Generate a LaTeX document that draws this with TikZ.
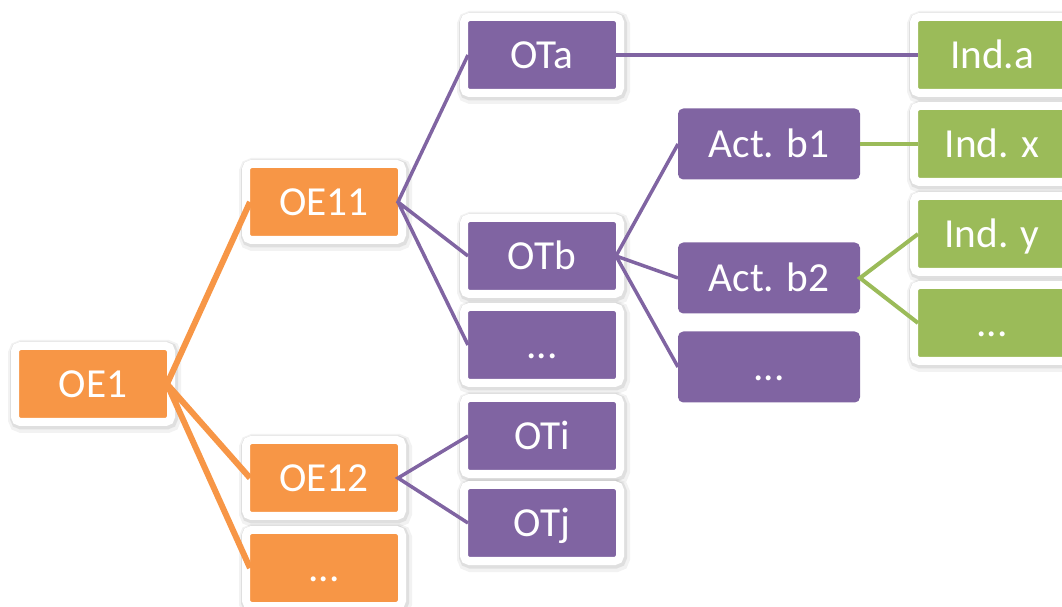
\documentclass[tikz,border=0pt]{standalone}
\usepackage{fontspec}
\setmainfont{Carlito}
\definecolor{oeorange}{RGB}{247,150,70}
\definecolor{otpurple}{RGB}{128,100,162}
\definecolor{indgreen}{RGB}{155,187,89}

\begin{document}
\begin{tikzpicture}[x=1cm,y=1cm,box/.style={draw=white,line width=.16cm,rounded corners=3pt,minimum width=3.12cm,minimum height=1.52cm,text=white,font=\fontsize{23.5}{26}\selectfont,inner sep=0pt,outer sep=-.08cm,text height=.53cm,text depth=0pt,preaction={draw=black,opacity=.05,line width=.34cm,transform canvas={xshift=.03cm,yshift=-.05cm}},preaction={draw=black,opacity=.08,line width=.24cm,transform canvas={xshift=.02cm,yshift=-.03cm}}},actbox/.style={fill=otpurple,rounded corners=3pt,minimum width=3.64cm,minimum height=1.42cm,text=white,font=\fontsize{23.5}{26}\selectfont,inner sep=0pt,outer sep=0pt,text height=.53cm,text depth=0pt},oe/.style={box,fill=oeorange},ot/.style={box,fill=otpurple},ind/.style={box,fill=indgreen},oeline/.style={draw=oeorange,line width=.12cm},otline/.style={draw=otpurple,line width=.07cm},indline/.style={draw=indgreen,line width=.08cm}]

\useasboundingbox (0,0) rectangle (21.24,12.12);
\node[oe] (oe1) at(1.86,4.44) {OE1};
\node[oe] (oe11) at(6.48,8.08) {OE11};
\node[oe] (oe12) at(6.48,2.56) {OE12};
\node[oe] (oedots) at(6.48,.76) {...};
\node[ot] (ota) at(10.84,11.02) {OTa};
\node[ot] (otb) at(10.84,7.00) {OTb};
\node[ot] (otdots) at(10.84,5.22) {...};
\node[ot] (oti) at(10.84,3.40) {OTi};
\node[ot] (otj) at(10.84,1.66) {OTj};
\node[actbox] (actb1) at(15.38,9.24) {Act. b1};
\node[actbox] (actb2) at(15.38,6.56) {Act. b2};
\node[actbox] (actdots) at(15.38,4.78) {...};
\node[ind] (inda) at(19.84,11.02) {Ind.a};
\node[ind] (indx) at(19.84,9.24) {Ind. x};
\node[ind] (indy) at(19.84,7.44) {Ind. y};
\node[ind] (inddots) at(19.84,5.66) {...};

\draw[oeline] (oe11.west) -- (oe1.east) -- (oe12.west) (oe1.east) -- (oedots.west);
\draw[otline] (ota.west) -- (oe11.east) -- (otb.west) (oe11.east) -- (otdots.west);
\draw[otline] (oti.west) -- (oe12.east) -- (otj.west);
\draw[otline] (ota.east) -- (inda.west);
\draw[otline] (actb1.west) -- (otb.east) -- (actb2.west) (otb.east) -- (actdots.west);
\draw[indline] (actb1.east) -- (indx.west);
\draw[indline] (indy.west) -- (actb2.east) -- (inddots.west);
\end{tikzpicture}
\end{document}
